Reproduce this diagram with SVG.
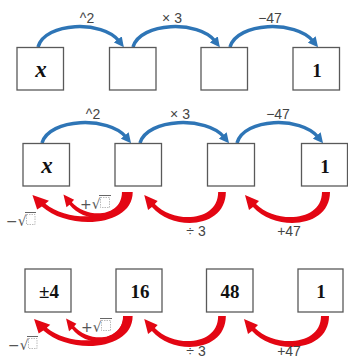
<svg xmlns="http://www.w3.org/2000/svg" xmlns:xlink="http://www.w3.org/1999/xlink" width="348" height="358" viewBox="0 0 348 358">
<style>
.box{fill:#fff;stroke:#595959;stroke-width:1.3}
.val{font-family:"Liberation Serif",serif;font-weight:bold;font-size:19px;fill:#111;text-anchor:middle}
.var{font-family:"Liberation Serif",serif;font-weight:bold;font-style:italic;font-size:23px;fill:#111;text-anchor:middle}
.op{font-family:"Liberation Sans",Arial,sans-serif;font-size:14px;fill:#444;text-anchor:middle}
.rad{font-family:"DejaVu Sans",sans-serif;font-size:14px;fill:#555}
.ph{fill:none;stroke:#aaa;stroke-width:0.8;stroke-dasharray:1.5 1}
.bar{stroke:#555;stroke-width:0.9}
.blue{fill:none;stroke:#2e75b6;stroke-width:3.5}
.red{fill:#e30613}
</style>
<defs>
<marker id="bh" markerUnits="userSpaceOnUse" markerWidth="10" markerHeight="10" refX="2" refY="5" orient="auto" viewBox="0 0 10 10">
<path d="M0,0 L10,5 L0,10 Z" fill="#2e75b6"/>
</marker>
<path id="ra" d="M4,0 C4,36 -50,40 -73,15 L-77,18 L-81,3 L-67,9 L-70,12 C-50,32 -4,30 -4,0 Z"/>
</defs>

<g id="connectors">
<g id="row1-blue">
<path class="blue" d="M38,47 C45,22 103,20 119,41" marker-end="url(#bh)"/>
<path class="blue" d="M133,47 C140,22 199,20 215,41" marker-end="url(#bh)"/>
<path class="blue" d="M230,47 C237,22 296,20 313,41" marker-end="url(#bh)"/>
</g>
<g id="row2-blue">
<path class="blue" d="M42,143 C49,118 109,116 126,137" marker-end="url(#bh)"/>
<path class="blue" d="M140,143 C147,118 207,116 224,137" marker-end="url(#bh)"/>
<path class="blue" d="M237,143 C244,118 301,116 318,137" marker-end="url(#bh)"/>
</g>
<g id="row2-red" class="red">
<use xlink:href="#ra" transform="translate(326,192)"/>
<use xlink:href="#ra" transform="translate(222,192) scale(0.96,1)"/>
<use xlink:href="#ra" transform="translate(128,192) scale(1.18,0.97)"/>
<use xlink:href="#ra" transform="translate(125,192) scale(0.76,0.85)"/>
</g>
<g id="row3-red" class="red">
<use xlink:href="#ra" transform="translate(325,316)"/>
<use xlink:href="#ra" transform="translate(222,316) scale(0.96,1)"/>
<use xlink:href="#ra" transform="translate(128,316) scale(1.16,0.97)"/>
<use xlink:href="#ra" transform="translate(126,316) scale(0.74,0.85)"/>
</g>
</g>

<g id="labels">
<text class="op" x="87" y="23">^2</text>
<text class="op" x="172" y="23">× 3</text>
<text class="op" x="270" y="23">−47</text>
<text class="op" x="93" y="119">^2</text>
<text class="op" x="180" y="119">× 3</text>
<text class="op" x="278" y="119">−47</text>
<text class="op" x="196" y="236">÷ 3</text>
<text class="op" x="289" y="236">+47</text>
<text class="op" x="196" y="356">÷ 3</text>
<text class="op" x="289" y="356">+47</text>
<g id="neg-sqrt-2"><text class="rad" x="6" y="226">−√</text><line class="bar" x1="25" y1="212.5" x2="36" y2="212.5"/><rect class="ph" x="26.5" y="214.5" width="8.5" height="10"/></g>
<g id="pos-sqrt-2"><text class="rad" x="80" y="209">+√</text><line class="bar" x1="99" y1="195.5" x2="111" y2="195.5"/><rect class="ph" x="100.5" y="197.5" width="9" height="10"/></g>
<g id="neg-sqrt-3"><text class="rad" x="8" y="350">−√</text><line class="bar" x1="27" y1="336.5" x2="38" y2="336.5"/><rect class="ph" x="28.5" y="338.5" width="8.5" height="10"/></g>
<g id="pos-sqrt-3"><text class="rad" x="81" y="332">+√</text><line class="bar" x1="100" y1="318.5" x2="112" y2="318.5"/><rect class="ph" x="101.5" y="320.5" width="9" height="10"/></g>
</g>

<g id="row1">
<g id="r1n1"><rect class="box" x="17" y="47.5" width="46.5" height="42.5"/><text class="var" x="41" y="77">x</text></g>
<g id="r1n2"><rect class="box" x="109.5" y="47.5" width="46.5" height="42.5"/></g>
<g id="r1n3"><rect class="box" x="201" y="47.5" width="46.5" height="42.5"/></g>
<g id="r1n4"><rect class="box" x="293" y="47.5" width="46.5" height="42.5"/><text class="val" x="317" y="77">1</text></g>
</g>
<g id="row2">
<g id="r2n1"><rect class="box" x="23" y="143.5" width="46.5" height="42.5"/><text class="var" x="47" y="173">x</text></g>
<g id="r2n2"><rect class="box" x="115" y="143.5" width="46.5" height="42.5"/></g>
<g id="r2n3"><rect class="box" x="207.5" y="143.5" width="47" height="42.5"/></g>
<g id="r2n4"><rect class="box" x="301.5" y="143.5" width="46" height="42.5"/><text class="val" x="325" y="173">1</text></g>
</g>
<g id="row3">
<g id="r3n1"><rect class="box" x="25" y="269" width="46" height="43"/><text class="val" x="49" y="298">±4</text></g>
<g id="r3n2"><rect class="box" x="116" y="269" width="46" height="43"/><text class="val" x="140" y="298">16</text></g>
<g id="r3n3"><rect class="box" x="206.5" y="269" width="46.5" height="43"/><text class="val" x="230" y="298">48</text></g>
<g id="r3n4"><rect class="box" x="298" y="269" width="45" height="43"/><text class="val" x="321" y="298">1</text></g>
</g>
</svg>
